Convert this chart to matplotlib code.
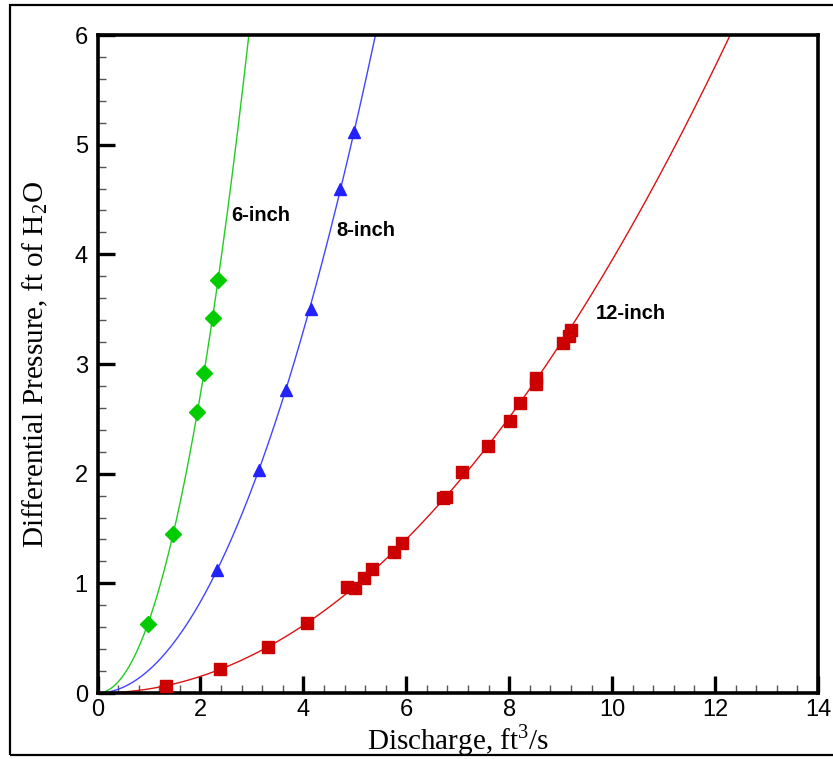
import numpy as np
import matplotlib
matplotlib.use("Agg")
import matplotlib.pyplot as plt
from matplotlib.patches import Rectangle
from matplotlib.ticker import MultipleLocator

plt.rcParams['mathtext.fontset'] = 'custom'
plt.rcParams['mathtext.rm'] = 'Liberation Serif'

# 6-inch data
x6 = [0.98, 1.47, 1.93, 2.07, 2.24, 2.35]
y6 = [0.63, 1.45, 2.565, 2.92, 3.42, 3.77]
# 8-inch data
x8 = [2.32, 3.13, 3.66, 4.14, 4.71, 4.98]
y8 = [1.12, 2.03, 2.76, 3.50, 4.60, 5.12]
# 12-inch data
x12 = [1.33, 2.38, 3.31, 4.08, 4.84, 5.00, 5.17, 5.34, 5.77, 5.91, 6.72, 6.78,
       7.09, 7.59, 8.02, 8.21, 8.53, 8.53, 9.05, 9.17, 9.21]
y12 = [0.064, 0.22, 0.42, 0.636, 0.964, 0.955, 1.046, 1.128, 1.283, 1.365, 1.78, 1.785,
       2.018, 2.252, 2.48, 2.64, 2.82, 2.87, 3.19, 3.255, 3.31]

labels = ["6-inch", "8-inch", "12-inch"]
label_pos = [(3.18, 4.35), (5.22, 4.22), (10.37, 3.465)]
curve_start = [0.15, 0.25, 0.3]

fig = plt.figure(figsize=(8.33, 7.59), dpi=100)
ax = fig.add_axes([97.5/833, 66/759, (818-97.5)/833, (693-35)/759])

# outer frame
fig.patches.append(Rectangle((9.5/833, 4/759), 1.2, 750/759, transform=fig.transFigure,
                             fill=False, edgecolor='black', linewidth=1.6, clip_on=False))

series = [
    (x6, y6, '#22cc22', '#00cc00', 'D', 8.5),
    (x8, y8, '#4444ff', '#2222ff', '^', 9),
    (x12, y12, '#dd1111', '#cc0000', 's', 8.5),
]
for (xs, ys, lc, mc, mk, ms), x0 in zip(series, curve_start):
    xs = np.asarray(xs); ys = np.asarray(ys)
    b, loga = np.polyfit(np.log(xs), np.log(ys), 1)
    xx = np.linspace(x0, 14, 3000)
    yy = np.exp(loga) * xx ** b
    m = yy <= 6.0
    ax.plot(xx[m], yy[m], color=lc, lw=1.0, zorder=2)
    ax.plot(xs, ys, ls='none', marker=mk, ms=ms, color=mc, mec=mc, zorder=3)

for lab, (tx, ty) in zip(labels, label_pos):
    ax.text(tx, ty, lab, fontsize=14.5, fontweight='bold', family='Liberation Sans',
            ha='center', va='center')

ax.set_xlim(0, 14)
ax.set_ylim(0, 6)
ax.xaxis.set_major_locator(MultipleLocator(2))
ax.xaxis.set_minor_locator(MultipleLocator(0.4))
ax.yaxis.set_major_locator(MultipleLocator(1))
ax.yaxis.set_minor_locator(MultipleLocator(0.2))

for s in ax.spines.values():
    s.set_linewidth(2.6)
ax.tick_params(which='major', direction='in', length=12, width=2.4, labelsize=17,
               top=False, right=False)
ax.tick_params(axis='x', which='major', pad=4)
ax.tick_params(axis='y', which='major', pad=7)
ax.tick_params(which='minor', direction='in', length=6, width=1.0, color='#555555',
               top=False, right=False)
for t in ax.get_xticklabels() + ax.get_yticklabels():
    t.set_family('Liberation Sans')

ax.set_xlabel(r'Discharge, ft$^\mathrm{3}$/s', family='Liberation Serif', fontsize=21, labelpad=1)
ax.set_ylabel(r'Differential Pressure, ft of H$_\mathrm{2}$O', family='Liberation Serif',
              fontsize=21, labelpad=18)

fig.savefig('out.png', dpi=100)
